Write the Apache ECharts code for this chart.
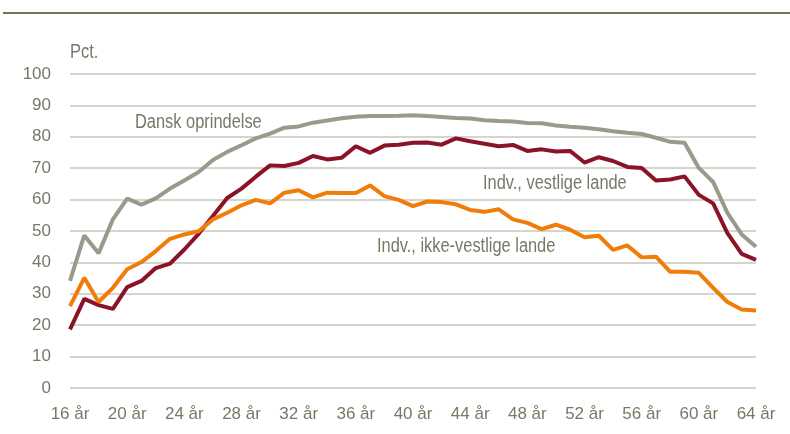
<!DOCTYPE html>
<html>
<head>
<meta charset="utf-8">
<script src="https://cdn.jsdelivr.net/npm/echarts@6/dist/echarts.min.js"></script>
<style>
  html, body { margin: 0; padding: 0; background: #fff; }
  #chart { width: 790px; height: 434px; }
</style>
</head>
<body>
<div id="chart"></div>
<script>
// alder 16..64
const ages = [];
for (let a = 16; a <= 64; a++) ages.push(a + ' år');

const danskOprindelse = [
  34.1, 48.6, 42.9, 53.7, 60.3, 58.4, 60.4, 63.5, 66.1, 68.8,
  72.6, 75.2, 77.3, 79.5, 81.0, 82.9, 83.3, 84.5, 85.2, 85.9,
  86.4, 86.6, 86.6, 86.7, 86.9, 86.6, 86.3, 86.0, 85.8, 85.3,
  85.0, 84.9, 84.4, 84.3, 83.6, 83.2, 82.9, 82.4, 81.8, 81.3,
  80.9, 79.7, 78.4, 78.1, 70.1, 65.6, 55.8, 48.9, 45.0
];
const vestligeLande = [
  18.7, 28.4, 26.4, 25.2, 32.1, 34.1, 38.2, 39.6, 44.1, 49.1,
  54.8, 60.5, 63.5, 67.3, 70.9, 70.7, 71.7, 73.9, 72.8, 73.3,
  77.0, 74.9, 77.2, 77.5, 78.1, 78.2, 77.5, 79.5, 78.6, 77.8,
  77.0, 77.4, 75.5, 76.0, 75.3, 75.5, 71.8, 73.5, 72.3, 70.4,
  70.1, 66.1, 66.4, 67.4, 61.5, 58.8, 49.3, 42.7, 40.8
];
const ikkeVestligeLande = [
  26.1, 35.1, 27.4, 31.9, 37.8, 40.1, 43.6, 47.5, 48.9, 49.9,
  53.7, 55.8, 58.2, 59.9, 58.8, 62.2, 63.0, 60.7, 62.2, 62.1,
  62.1, 64.5, 61.1, 59.9, 57.9, 59.4, 59.2, 58.5, 56.7, 56.1,
  56.9, 53.7, 52.6, 50.6, 52.0, 50.4, 48.0, 48.5, 44.0, 45.4,
  41.6, 41.8, 37.0, 37.0, 36.7, 31.9, 27.4, 25.0, 24.7
];

const font = "'Liberation Sans', Arial, sans-serif";
const textColor = '#7a7766';

const chart = echarts.init(document.getElementById('chart'), null, { renderer: 'canvas' });

function line(name, data, color) {
  return {
    name: name,
    type: 'line',
    data: data,
    symbol: 'none',
    smooth: false,
    lineStyle: { color: color, width: 4 },
    itemStyle: { color: color },
    animation: false
  };
}

// smalle tekster (Arial Narrow-lignende)
function label(text, x, y) {
  return {
    type: 'text', x: x, y: y, scaleX: 0.82,
    style: { text: text, fill: textColor, font: '20px ' + font, textVerticalAlign: 'middle' }
  };
}

chart.setOption({
  backgroundColor: '#ffffff',
  animation: false,
  grid: { left: 70, right: 34, top: 74, bottom: 46 },
  xAxis: {
    type: 'category',
    data: ages,
    boundaryGap: false,
    axisLine: { show: false },
    axisTick: { show: false },
    splitLine: { show: false },
    axisLabel: {
      interval: 3,
      color: textColor,
      fontFamily: font,
      fontSize: 17,
      margin: 18
    }
  },
  yAxis: {
    type: 'value',
    min: 0,
    max: 100,
    interval: 10,
    axisLine: { show: false },
    axisTick: { show: false },
    splitLine: { lineStyle: { color: '#c9c7ba', width: 1.5 } },
    axisLabel: {
      color: textColor,
      fontFamily: font,
      fontSize: 17,
      margin: 19
    }
  },
  graphic: [
    { type: 'rect', shape: { x: 3, y: 12, width: 787, height: 2 }, style: { fill: '#76735f' } },
    label('Pct.', 70, 52),
    label('Dansk oprindelse', 135, 122),
    label('Indv., vestlige lande', 483, 183),
    label('Indv., ikke-vestlige lande', 377, 246)
  ],
  series: [
    line('Dansk oprindelse', danskOprindelse, '#9a998b'),
    line('Indv., vestlige lande', vestligeLande, '#8a1327'),
    line('Indv., ikke-vestlige lande', ikkeVestligeLande, '#f07d0a')
  ]
});
</script>
</body>
</html>
